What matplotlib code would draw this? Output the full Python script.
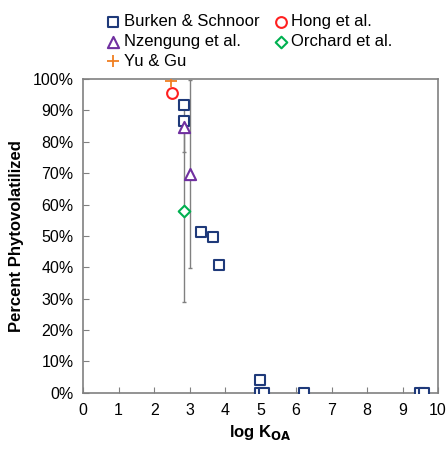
import matplotlib.pyplot as plt
from matplotlib.ticker import PercentFormatter

plt.rcParams['font.family'] = ['Liberation Sans', 'DejaVu Sans']

burken_x = [2.83, 2.83, 3.31, 3.67, 3.83, 4.97, 4.97, 5.1, 6.23, 9.49, 9.59]
burken_y = [91.7, 86.5, 51.2, 49.8, 40.8, 4.1, 0, 0, 0, 0, 0]
hong_x = [2.5]
hong_y = [95.6]
nzengung_x = [2.83, 3.01]
nzengung_y = [84.8, 69.7]
nzengung_err = [8, 30]
orchard_x = [2.83]
orchard_y = [58]
orchard_err = [29]
yu_x = [2.48]
yu_y = [99.5]

fig = plt.figure(figsize=(4.47, 4.49), dpi=100)
ax = fig.add_axes([0.186, 0.125, 0.794, 0.699])

ax.errorbar(nzengung_x, nzengung_y, yerr=nzengung_err, fmt='none', ecolor='#808080',
            elinewidth=1, capsize=1.5, zorder=1)
ax.errorbar(orchard_x, orchard_y, yerr=orchard_err, fmt='none', ecolor='#808080',
            elinewidth=1, capsize=1.5, zorder=1)

h1 = ax.scatter(burken_x, burken_y, marker='s', s=60, facecolors='white',
                edgecolors='#1F3A7A', linewidths=1.5, label='Burken & Schnoor', zorder=3)
h2 = ax.scatter(hong_x, hong_y, marker='o', s=60, facecolors='white',
                edgecolors='#FF2020', linewidths=1.5, label='Hong et al.', zorder=3)
h3 = ax.scatter(nzengung_x, nzengung_y, marker='^', s=65, facecolors='white',
                edgecolors='#7030A0', linewidths=1.5, label='Nzengung et al.', zorder=3)
h4 = ax.scatter(orchard_x, orchard_y, marker='D', s=35, facecolors='white',
                edgecolors='#00B050', linewidths=1.5, label='Orchard et al.', zorder=3)
h5 = ax.scatter(yu_x, yu_y, marker='+', s=80, color='#F07F22',
                linewidths=1.3, label='Yu & Gu', zorder=3)

ax.set_xlim(0, 10)
ax.set_ylim(0, 100)
ax.set_xticks(range(0, 11))
ax.set_yticks(range(0, 101, 10))
ax.yaxis.set_major_formatter(PercentFormatter(decimals=0))
ax.tick_params(direction='in', length=4, color='#808080', labelsize=11.5, pad=7)
for sp in ax.spines.values():
    sp.set_color('#808080')
    sp.set_linewidth(1.2)

ax.set_xlabel(r'log K$_{\mathbf{OA}}$', fontsize=12, fontweight='bold', labelpad=4)
ax.set_ylabel('Percent Phytovolatilized', fontsize=12, fontweight='bold', labelpad=6)

fig.legend(handles=[h1, h3, h5, h2, h4], ncol=2, frameon=False, fontsize=12,
           loc='upper left', bbox_to_anchor=(0.203, 0.998), handletextpad=0.1,
           columnspacing=0.7, labelspacing=0.28, handlelength=1.1, borderpad=0.3)

fig.savefig('out.png', dpi=100)
